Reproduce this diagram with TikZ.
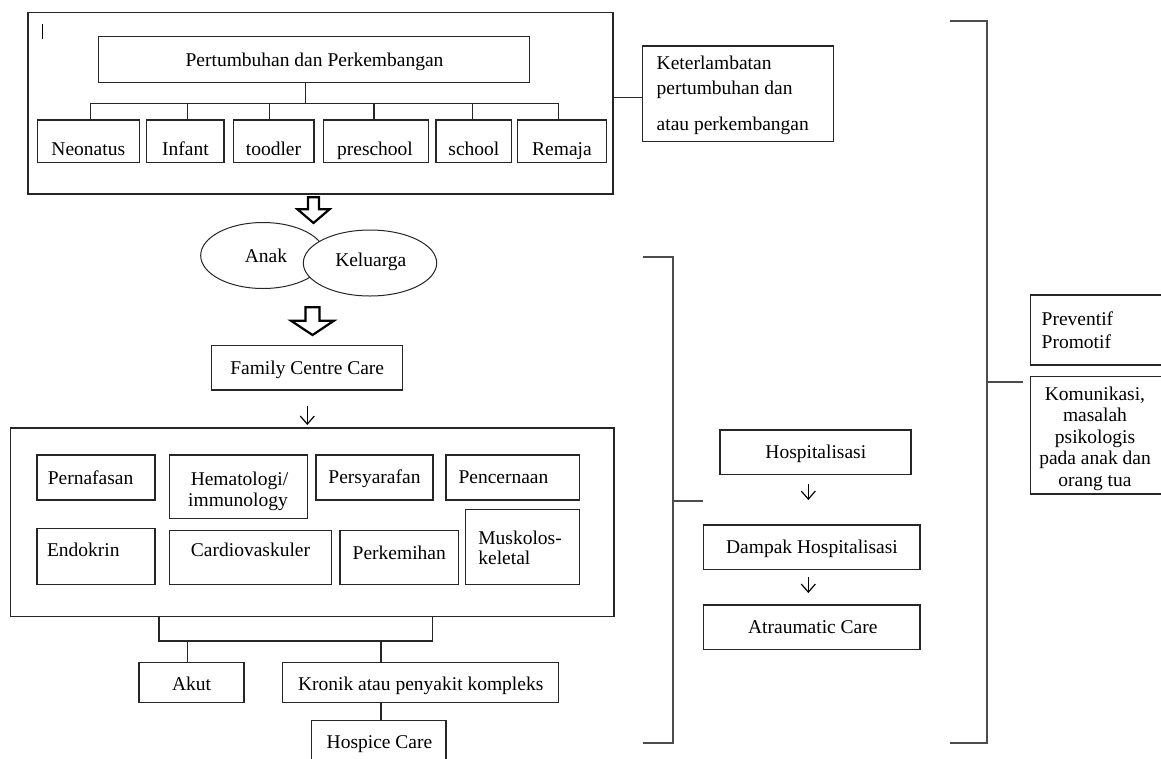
\documentclass[tikz,border=0pt]{standalone}
\usepackage{fontspec}
\setmainfont{Liberation Serif}
\usetikzlibrary{arrows.meta,shapes.geometric}

% box given by its corners: name, x1, y1, x2, y2
\newcommand\mkbox[5]{%
  \node[box, minimum width={#4-#2}, minimum height={#5-#3}] (#1) at ({(#2+#4)/2},{(#3+#5)/2}) {};}
% centred text on a baseline: name, x, y, text
\newcommand\tlab[4]{\node[lbl] (#1) at (#2,#3) {#4};}
% left-aligned text on a baseline: name, x, y, text
\newcommand\tlabw[4]{\node[lbl, anchor=base west] (#1) at (#2,#3) {#4};}

\tikzset{
  box/.style={rectangle, draw=black!85, line width=1.3pt, fill=white, inner sep=0pt, outer sep=0pt},
  lbl/.style={inner sep=0pt, outer sep=0pt, anchor=base, text=black},
  link/.style={draw=black!85, line width=1.3pt},
  brk/.style={draw=black!70, line width=1.8pt},
  thinarrow/.style={draw=black, line width=1.2pt, -{Straight Barb[length=8pt,width=14pt]}},
  hollow/.style={draw=black, line width=2.2pt, fill=white, line join=miter},
  oval/.style={ellipse, draw=black!85, line width=1pt, fill=white, inner sep=0pt, outer sep=0pt}
}

\begin{document}
\begin{tikzpicture}[x=1pt, y=-1pt, font=\fontsize{19.5pt}{21.5pt}\selectfont]
\useasboundingbox (0,0) rectangle (1161,758);
\fill[white] (0,0) rectangle (1161,758);
\clip (0,0) rectangle (1161,758);

% ---------- growth and development panel ----------
\mkbox{growth}{28}{12.7}{613}{194}
\draw[black, line width=0.9pt] (42,24) -- (42,39);
\mkbox{pp}{98.5}{36.7}{529.8}{82.3}
\tlab{ppt}{314.5}{66}{Pertumbuhan dan Perkembangan}

\mkbox{c1}{37.2}{120}{139.4}{162.7}   \tlab{c1t}{88.3}{155}{Neonatus}
\mkbox{c2}{146.7}{120}{224}{162.7}    \tlab{c2t}{185.4}{155}{Infant}
\mkbox{c3}{233.2}{120}{313.9}{162.7}  \tlab{c3t}{273.5}{155}{toodler}
\mkbox{c4}{323.5}{120}{428.3}{162.7}  \tlab{c4t}{375}{155}{preschool}
\mkbox{c5}{436}{120}{511.8}{162.7}    \tlab{c5t}{473.9}{155}{school}
\mkbox{c6}{517.5}{120}{606.5}{162.7}  \tlab{c6t}{562}{155}{Remaja}

\coordinate (stem) at (305.5,103.3);
\draw[link] (pp.south -| stem) -- (stem);
\coordinate (d1) at (90.8,103.3);
\coordinate (d2) at (187.2,103.3);
\coordinate (d3) at (269.5,103.3);
\coordinate (d4) at (374,103.3);
\coordinate (d5) at (472.7,103.3);
\coordinate (d6) at (558.8,103.3);
\draw[link] (d1) -- (d6);
\foreach \i in {1,...,6} \draw[link] (d\i) -- (d\i |- c\i.north);

% delay box
\mkbox{delay}{642.7}{46}{833.3}{141.7}
\tlabw{dl1}{656.7}{69.5}{Keterlambatan}
\tlabw{dl2}{656.7}{94}{pertumbuhan dan}
\tlabw{dl3}{656.7}{130.5}{atau perkembangan}
\coordinate (dlk) at (613,97.3);
\draw[link] (dlk) -- (dlk -| delay.west);

% ---------- child and family ----------
\draw[hollow] (308,197.3) -- (319,197.3) -- (319,209.3) -- (329.5,209.3)
  -- (313.5,223) -- (297.5,209.3) -- (308,209.3) -- cycle;
\node[oval, minimum width=124.6pt, minimum height=66pt] (anak) at (263,255.5) {};
\node[oval, minimum width=133.4pt, minimum height=66pt] (kel) at (370,263) {};
\tlab{anakt}{266}{262}{Anak}
\tlab{kelt}{370.8}{266.5}{Keluarga}
\draw[hollow] (305.5,307.3) -- (319.5,307.3) -- (319.5,320.7) -- (334,320.7)
  -- (312.5,335) -- (291,320.7) -- (305.5,320.7) -- cycle;

\mkbox{fcc}{211.7}{345.7}{402.7}{390}
\tlab{fcct}{307.2}{374.5}{Family Centre Care}
\coordinate (fa1) at (307.3,406);
\coordinate (fa2) at (307.3,425);
\draw[thinarrow] (fa1) -- (fa2);

% ---------- body systems ----------
\mkbox{sys}{10.7}{428}{614}{616.5}
\mkbox{s1}{37}{455}{155}{500}          \tlabw{s1t}{47.8}{484}{Pernafasan}
\mkbox{s2}{169.5}{455}{307.3}{518.7}   \tlab{s2t}{239.5}{485}{Hematologi/}
                                       \tlab{s2u}{238}{506}{immunology}
\mkbox{s3}{316}{455}{433}{500}         \tlab{s3t}{374.5}{483.5}{Persyarafan}
\mkbox{s4}{446}{455}{579.4}{500}       \tlabw{s4t}{458.5}{483.5}{Pencernaan}
\mkbox{s5}{37}{528.3}{155}{584.3}      \tlabw{s5t}{47}{556.5}{Endokrin}
\mkbox{s6}{169.5}{530.3}{331.4}{584.3} \tlab{s6t}{250.5}{556}{Cardiovaskuler}
\mkbox{s7}{340}{530.3}{458.5}{584.3}   \tlab{s7t}{399.3}{559}{Perkemihan}
\mkbox{s8}{465.7}{509.3}{579.4}{584.3} \tlabw{s8t}{478.4}{544}{Muskolos-}
                                       \tlabw{s8u}{478.4}{564.5}{keletal}

% acute / chronic split
\mkbox{akut}{139}{662.7}{244}{702.7}       \tlab{akutt}{191.5}{690}{Akut}
\mkbox{kronik}{282.7}{662.7}{558.7}{702.7} \tlab{kronikt}{420.7}{690}{Kronik atau penyakit kompleks}
\mkbox{hospice}{311.7}{720.7}{446}{775}    \tlab{hospicet}{379.5}{748.3}{Hospice Care}
\coordinate (bl) at (159,641);
\coordinate (br) at (432.7,641);
\draw[link] (sys.south -| bl) -- (bl) -- (br) -- (sys.south -| br);
\coordinate (ba) at (187.7,641);
\coordinate (bk) at (381,641);
\draw[link] (ba) -- (ba |- akut.north);
\draw[link] (bk) -- (bk |- kronik.north);
\draw[link] (kronik.south -| bk) -- (hospice.north -| bk);

% ---------- hospitalisation bracket ----------
\coordinate (mb1) at (643,256.7);
\coordinate (mb2) at (673,256.7);
\coordinate (mb3) at (673,743);
\coordinate (mb4) at (643,743);
\draw[brk] (mb1) -- (mb2) -- (mb3) -- (mb4);
\coordinate (mt1) at (673,501);
\coordinate (mt2) at (703,501);
\draw[brk] (mt1) -- (mt2);

\mkbox{hosp}{720}{430}{911}{474.3}     \tlab{hospt}{815.8}{458.5}{Hospitalisasi}
\mkbox{damp}{703.3}{525}{920}{569.3}   \tlab{dampt}{812}{553.4}{Dampak Hospitalisasi}
\mkbox{atr}{703.3}{605}{920}{649.3}    \tlab{atrt}{812.8}{633.5}{Atraumatic Care}
\coordinate (ha1) at (808.3,484);
\coordinate (ha2) at (808.3,500);
\draw[thinarrow] (ha1) -- (ha2);
\coordinate (ha3) at (808.3,577);
\coordinate (ha4) at (808.3,593);
\draw[thinarrow] (ha3) -- (ha4);

% ---------- outer bracket ----------
\coordinate (rb1) at (950,20.7);
\coordinate (rb2) at (987,20.7);
\coordinate (rb3) at (987,743);
\coordinate (rb4) at (950,743);
\draw[brk] (rb1) -- (rb2) -- (rb3) -- (rb4);
\coordinate (rt1) at (987,381.7);
\coordinate (rt2) at (1023,381.7);
\draw[brk] (rt1) -- (rt2);

\mkbox{prev}{1030.7}{295}{1175}{365}
\tlabw{prev1}{1041.7}{325}{Preventif}
\tlabw{prev2}{1041.7}{348.3}{Promotif}
\mkbox{kom}{1030.7}{376.7}{1175}{494}
\tlab{kom1}{1095}{400}{Komunikasi,}
\tlab{kom2}{1095}{421.5}{masalah}
\tlab{kom3}{1095}{443}{psikologis}
\tlab{kom4}{1095}{464.5}{pada anak dan}
\tlab{kom5}{1095}{486}{orang tua}
\end{tikzpicture}
\end{document}
